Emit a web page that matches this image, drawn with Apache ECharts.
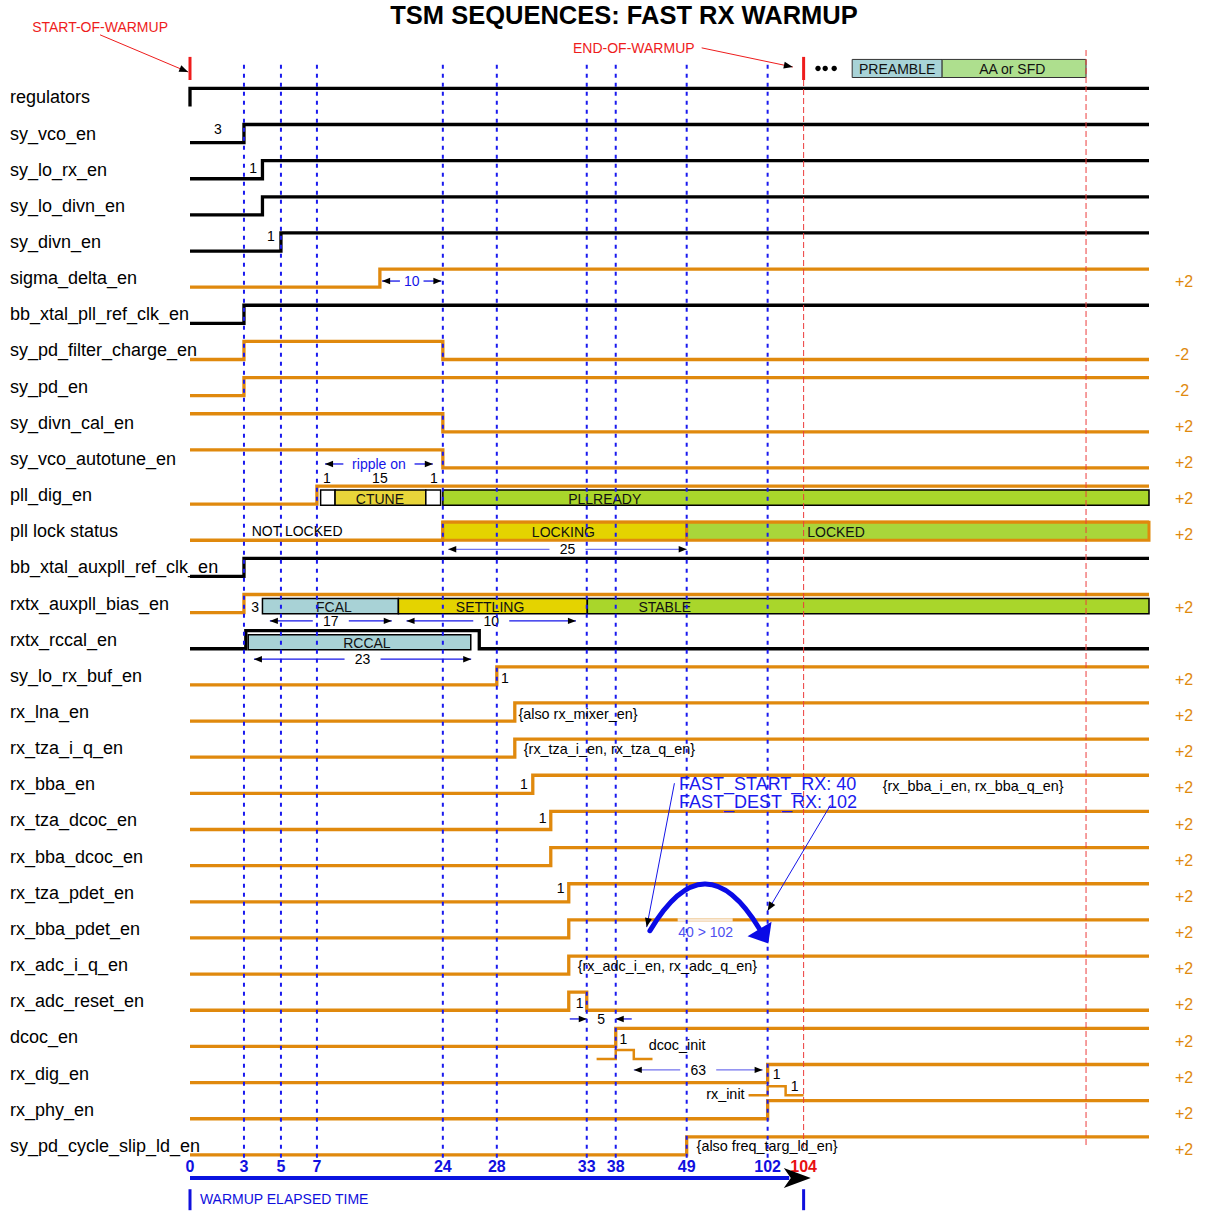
<!DOCTYPE html>
<html>
<head>
<meta charset="utf-8">
<title>TSM sequences: fast RX warmup</title>
<script src="https://cdn.jsdelivr.net/npm/echarts@6/dist/echarts.min.js"></script>
<style>
  html, body { margin: 0; padding: 0; background: #fff; }
  #chart { width: 1207px; height: 1212px; }
</style>
</head>
<body>
<div id="chart"></div>
<script>
// time axis: labelled ticks and where each one sits along the plot (px from plot left)
var tickTime = [0, 3, 5, 7, 24, 28, 33, 38, 49, 102, 104];
var tickPos  = [0, 54, 91, 127, 253, 307, 397, 426, 497, 578, 614];
var T_END = 123.2;  // right end of every trace

var signalNames = [
  'regulators', 'sy_vco_en', 'sy_lo_rx_en', 'sy_lo_divn_en', 'sy_divn_en',
  'sigma_delta_en', 'bb_xtal_pll_ref_clk_en', 'sy_pd_filter_charge_en', 'sy_pd_en', 'sy_divn_cal_en',
  'sy_vco_autotune_en', 'pll_dig_en', 'pll lock status', 'bb_xtal_auxpll_ref_clk_en', 'rxtx_auxpll_bias_en',
  'rxtx_rccal_en', 'sy_lo_rx_buf_en', 'rx_lna_en', 'rx_tza_i_q_en', 'rx_bba_en',
  'rx_tza_dcoc_en', 'rx_bba_dcoc_en', 'rx_tza_pdet_en', 'rx_bba_pdet_en', 'rx_adc_i_q_en',
  'rx_adc_reset_en', 'dcoc_en', 'rx_dig_en', 'rx_phy_en', 'sy_pd_cycle_slip_ld_en'
];
// k = black trace, o = orange trace
var signalColor = ['k','k','k','k','k','o','k','o','o','o','o','o','o','k','o',
                   'k','o','o','o','o','o','o','o','o','o','o','o','o','o','o'];
var rightTags = ['','','','','','+2','','-2','-2','+2','+2','+2','+2','','+2',
                 '','+2','+2','+2','+2','+2','+2','+2','+2','+2','+2','+2','+2','+2','+2'];

// [start level, toggle times...]
var waves = [
  [0, 0], [0, 3], [0, 4], [0, 4], [0, 5],
  [0, 15.5], [0, 3], [0, 3, 24], [0, 3], [1, 24],
  [1, 24], [0, 7], [0, 24], [0, 3], [0, 3],
  [0, 3.1, 26.7], [0, 28], [0, 29], [0, 29], [0, 30],
  [0, 31], [0, 31], [0, 32], [0, 32], [0, 32],
  [0, 32, 33], [0, 38], [0, 102], [0, 102], [0, 49]
];

// small sub-pulses: [row, start, rise, fall, end]
var pulses = [
  [26, 34.7, 38, 40.8, 43.7],
  [27, 89.5, 102, 103, 104]
];

// [row, t0, t1, label, label time, kind]
var boxes = [
  [11, 7.5, 9.45, '', 0, 'white'],
  [11, 9.45, 21.7, 'CTUNE', 15.5, 'ctune'],
  [11, 21.7, 23.7, '', 0, 'white'],
  [11, 24, T_END, 'PLLREADY', 36.1, 'ready'],
  [12, 24, 49, 'LOCKING', 31.7, 'locking'],
  [12, 49, T_END, 'LOCKED', 105.8, 'locked'],
  [14, 4.0, 18.0, 'FCAL', 9.3, 'fcal'],
  [14, 18.0, 33.1, 'SETTLING', 27.5, 'settling'],
  [14, 33.1, T_END, 'STABLE', 45.6, 'stable'],
  [15, 3.23, 26.07, 'RCCAL', 13.75, 'fcal'],
  [-0.8, 106.7, 111.7, 'PREAMBLE', 109.2, 'preamble'],
  [-0.8, 111.7, 119.7, 'AA or SFD', 115.6, 'aa']
];

// duration markers: [row, row offset, t0, t1, label, kind]
var spans = [
  [5, 0.08, 15.8, 23.8, '10', 'blue'],
  [10, 0.14, 8.1, 22.65, 'ripple on', 'blue'],
  [12, 0.5, 24.4, 49, '25', 'lite'],
  [14, 0.48, 4.4, 17.1, '17', 'dark'],
  [14, 0.48, 19.1, 32.4, '10', 'dark'],
  [15, 0.54, 3.54, 26.1, '23', 'dark'],
  [25, 0.49, 33, 38, '5', 'in'],
  [26, 0.9, 40.8, 98.7, '63', 'lite']
];

// free text: [row, row offset, time, text, kind]
var notes = [
  [1, -0.12, 1.55, '3', 'n'],
  [2, -0.05, 3.5, '1', 'n'],
  [4, -0.17, 4.46, '1', 'n'],
  [11, -0.47, 8.35, '1', 'n'],
  [11, -0.47, 15.5, '15', 'n'],
  [11, -0.47, 22.8, '1', 'n'],
  [12, 0, 5.9, 'NOT LOCKED', 'n'],
  [14, 0.1, 3.6, '3', 'n'],
  [16, 0.06, 28.45, '1', 'n'],
  [17, 0.05, 29.2, '{also rx_mixer_en}', 'l'],
  [18, 0.03, 29.5, '{rx_tza_i_en, rx_tza_q_en}', 'l'],
  [19, 0, 29.5, '1', 'n'],
  [19, 0.05, 108.4, '{rx_bba_i_en, rx_bba_q_en}', 'l'],
  [20, -0.07, 30.55, '1', 'n'],
  [22, -0.13, 31.55, '1', 'n'],
  [24, 0.03, 32.5, '{rx_adc_i_en, rx_adc_q_en}', 'l'],
  [25, 0.05, 32.6, '1', 'n'],
  [26, 0.05, 39.2, '1', 'n'],
  [26, 0.21, 43.1, 'dcoc_init', 'l'],
  [27, 0, 102.5, '1', 'n'],
  [27, 0.57, 86.9, 'rx_init', 'r'],
  [27, 0.35, 103.5, '1', 'n'],
  [29, 0, 55.5, '{also freq_targ_ld_en}', 'l'],
  [23, 0.09, 61.4, '40 > 102', 'jump'],
  [19, 0, 47.8, 'FAST_START_RX: 40', 'big'],
  [19, 0.5, 47.8, 'FAST_DEST_RX: 102', 'big'],
  [-2, 0.05, -5, 'START-OF-WARMUP', 'red'],
  [-1, -0.37, 40.8, 'END-OF-WARMUP', 'red'],
  [30, 0.47, 0.55, 'WARMUP ELAPSED TIME', 'warm']
];

// thin pointer arrows: [t0, row0, t1, row1, kind]
var pointers = [
  [-5, -1.73, -0.1, -0.7, 'red'],
  [58.8, -1.37, 103.4, -0.84, 'red'],
  [47.1, 18.97, 42.8, 22.95, 'blue'],
  [105.5, 19.57, 102, 22.5, 'blue']
];

// jump arc 40 -> 102: start, control, end (time, row)
var jumpArc = [43.3, 23.05, 60.8, 20.49, 96.7, 23.0];
var fadedPart = [23, 47.6, 79.1];
var dotTimes = [104.8, 105.2, 105.7];
var markTimes = [0, 104];
var redDash = [[104, -0.48, 29.12], [119.7, -1.31, 29.0]];

var FONT = '"Liberation Sans", Arial, Helvetica, sans-serif';
var ORANGE = '#e0890d';
var BLUE = '#1515e8';
var RED = '#ee1c1c';
var HALF = 0.25;

function tx(t) {
  var n = tickTime.length;
  if (t <= tickTime[0]) {
    return tickPos[0] + (t - tickTime[0]) * (tickPos[1] - tickPos[0]) / (tickTime[1] - tickTime[0]);
  }
  for (var k = 1; k < n; k++) {
    if (t <= tickTime[k]) {
      var f = (t - tickTime[k - 1]) / (tickTime[k] - tickTime[k - 1]);
      return tickPos[k - 1] + f * (tickPos[k] - tickPos[k - 1]);
    }
  }
  return tickPos[n - 1] + (t - tickTime[n - 1]) * (tickPos[n - 1] - tickPos[n - 2]) / (tickTime[n - 1] - tickTime[n - 2]);
}

function P(api, t, r) { return api.coord([tx(t), r]); }

function seg(a, b, style) {
  return { type: 'line', shape: { x1: a[0], y1: a[1], x2: b[0], y2: b[1] }, style: style };
}

function head(tip, from, len, hw, color) {
  var dx = tip[0] - from[0], dy = tip[1] - from[1];
  var d = Math.sqrt(dx * dx + dy * dy) || 1;
  var ux = dx / d, uy = dy / d;
  var bx = tip[0] - ux * len, by = tip[1] - uy * len;
  return { type: 'polygon', shape: { points: [tip, [bx - uy * hw, by + ux * hw], [bx + uy * hw, by - ux * hw]] },
           style: { fill: color } };
}

var boxStyle = {
  white:    { top: -0.14, bot: 0.28, fill: '#ffffff', stroke: '#000', lw: 1.5 },
  ctune:    { top: -0.14, bot: 0.28, fill: '#e8d53a', stroke: '#000', lw: 1.5 },
  ready:    { top: -0.14, bot: 0.28, fill: '#a9d62b', stroke: '#000', lw: 1.5 },
  fcal:     { top: -0.14, bot: 0.28, fill: '#a8d2d6', stroke: '#000', lw: 1.5 },
  settling: { top: -0.14, bot: 0.28, fill: '#e4d300', stroke: '#000', lw: 1.5 },
  stable:   { top: -0.14, bot: 0.28, fill: '#a9d62b', stroke: '#000', lw: 1.5 },
  locking:  { top: -HALF, bot: HALF, fill: '#e4d300', stroke: ORANGE, lw: 3 },
  locked:   { top: -HALF, bot: HALF, fill: '#a9d63a', stroke: ORANGE, lw: 3 },
  preamble: { top: -HALF, bot: HALF, fill: '#a8d3d7', stroke: '#333', lw: 1 },
  aa:       { top: -HALF, bot: HALF, fill: '#aedf8e', stroke: '#333', lw: 1 }
};

var noteStyle = {
  n:    { size: 14, fill: '#000', align: 'center' },
  l:    { size: 14.4, fill: '#000', align: 'left' },
  r:    { size: 14.4, fill: '#000', align: 'right' },
  jump: { size: 14, fill: '#5050f0', align: 'center' },
  big:  { size: 18, fill: '#1a1aee', align: 'left' },
  red:  { size: 14, fill: RED, align: 'center' },
  warm: { size: 14, fill: '#1010dd', align: 'left' }
};

var chart = echarts.init(document.getElementById('chart'), null, { renderer: 'svg' });

var option = {
  animation: false,
  title: {
    text: 'TSM SEQUENCES: FAST RX WARMUP',
    left: 619, top: -3, textAlign: 'center',
    textStyle: { fontSize: 25.5, fontWeight: 'bold', color: '#000', fontFamily: FONT }
  },
  grid: { left: 190, right: 58, top: 7, bottom: 30 },
  xAxis: {
    type: 'value', min: 0, max: tx(T_END),
    axisLine: { show: false }, axisTick: { show: false }, splitLine: { show: false },
    axisLabel: {
      inside: true, margin: 8,
      customValues: tickPos,
      formatter: function (v) {
        var t = tickTime[tickPos.indexOf(v)];
        return t === 104 ? '{r|' + t + '}' : '{b|' + t + '}';
      },
      rich: {
        b: { color: '#1010e0', fontSize: 16, fontWeight: 'bold', fontFamily: FONT },
        r: { color: '#e81010', fontSize: 16, fontWeight: 'bold', fontFamily: FONT }
      }
    }
  },
  yAxis: [{
    type: 'value', inverse: true, min: -2.5, max: 30,
    axisLine: { show: false }, axisTick: { show: false }, splitLine: { show: false },
    axisLabel: {
      customValues: signalNames.map(function (_, i) { return i; }),
      formatter: function (v) { return signalNames[Math.round(v)] || ''; },
      align: 'left', margin: 180, color: '#000', fontSize: 18, fontFamily: FONT
    }
  }, {
    type: 'value', inverse: true, min: -2.5, max: 30, position: 'right',
    axisLine: { show: false }, axisTick: { show: false }, splitLine: { show: false },
    axisLabel: {
      customValues: rightTags.map(function (_, i) { return i + 0.1; }),
      formatter: function (v) { return rightTags[Math.round(v)] || ''; },
      align: 'left', margin: 26, color: ORANGE, fontSize: 16, fontFamily: FONT
    }
  }],
  series: [
    {
      // traces
      type: 'custom', silent: true, clip: false,
      data: waves.map(function (_, i) { return [i]; }),
      renderItem: function (params, api) {
        var i = params.dataIndex, w = waves[i], lvl = w[0];
        var y = function (l) { return i + (l ? -HALF : HALF); };
        var pts = [P(api, 0, y(lvl))];
        for (var k = 1; k < w.length; k++) {
          pts.push(P(api, w[k], y(lvl)));
          lvl = 1 - lvl;
          pts.push(P(api, w[k], y(lvl)));
        }
        pts.push(P(api, T_END, y(lvl)));
        return { type: 'polyline', shape: { points: pts },
                 style: { stroke: signalColor[i] === 'k' ? '#000' : ORANGE, lineWidth: 3.3, fill: null, lineJoin: 'miter' } };
      }
    },
    {
      // init sub-pulses
      type: 'custom', silent: true, clip: false,
      data: pulses.map(function (_, i) { return [i]; }),
      renderItem: function (params, api) {
        var p = pulses[params.dataIndex], r = p[0];
        var lo = r + 0.6, hi = r + 0.35;
        var pts = [P(api, p[1], lo), P(api, p[2], lo), P(api, p[2], hi), P(api, p[3], hi), P(api, p[3], lo), P(api, p[4], lo)];
        return { type: 'polyline', shape: { points: pts }, style: { stroke: ORANGE, lineWidth: 2.5, fill: null } };
      }
    },
    {
      // state boxes
      type: 'custom', silent: true, clip: false,
      data: boxes.map(function (_, i) { return [i]; }),
      renderItem: function (params, api) {
        var b = boxes[params.dataIndex], st = boxStyle[b[5]];
        var p0 = P(api, b[1], b[0] + st.top), p1 = P(api, b[2], b[0] + st.bot);
        var ch = [{ type: 'rect', shape: { x: p0[0], y: p0[1], width: p1[0] - p0[0], height: p1[1] - p0[1] },
                    style: { fill: st.fill, stroke: st.stroke, lineWidth: st.lw } }];
        if (b[3]) {
          var pc = P(api, b[4], b[0] + (st.top + st.bot) / 2);
          ch.push({ type: 'text', x: pc[0], y: pc[1] + 1,
                    style: { text: b[3], fill: '#111', font: '14px ' + FONT, align: 'center', verticalAlign: 'middle' } });
        }
        return { type: 'group', children: ch };
      }
    },
    {
      // duration markers
      type: 'custom', silent: true, clip: false,
      data: spans.map(function (_, i) { return [i]; }),
      renderItem: function (params, api) {
        var s = spans[params.dataIndex], r = s[0] + s[1], kind = s[5];
        var a = P(api, s[2], r), b = P(api, s[3], r);
        var mid = (a[0] + b[0]) / 2;
        var ch = [];
        var lineCol = kind === 'lite' ? '#7272ee' : BLUE;
        var textCol = kind === 'blue' ? BLUE : '#000';
        if (kind === 'in') {
          ch.push(seg([a[0] - 17, a[1]], a, { stroke: lineCol, lineWidth: 1.3 }));
          ch.push(head(a, [a[0] - 10, a[1]], 8, 3.2, '#000'));
          ch.push(seg([b[0] + 16, b[1]], b, { stroke: lineCol, lineWidth: 1.3 }));
          ch.push(head(b, [b[0] + 10, b[1]], 8, 3.2, '#000'));
        } else {
          var gap = kind === 'blue' ? s[4].length * 3.4 + 5 : 18;
          ch.push(seg(a, [mid - gap, a[1]], { stroke: lineCol, lineWidth: 1.3 }));
          ch.push(seg([mid + gap, b[1]], b, { stroke: lineCol, lineWidth: 1.3 }));
          ch.push(head(a, [a[0] + 10, a[1]], 8, 3.2, '#000'));
          ch.push(head(b, [b[0] - 10, b[1]], 8, 3.2, '#000'));
        }
        ch.push({ type: 'text', x: mid, y: a[1],
                  style: { text: s[4], fill: textCol, font: '14px ' + FONT, align: 'center', verticalAlign: 'middle' } });
        return { type: 'group', children: ch };
      }
    },
    {
      // guides, markers, axis arrow
      type: 'custom', silent: true, clip: false,
      data: [[0]],
      renderItem: function (params, api) {
        var ch = [];
        var f = P(api, fadedPart[1], fadedPart[0] - HALF), g = P(api, fadedPart[2], fadedPart[0] - HALF);
        ch.push(seg(f, g, { stroke: '#f7e7d4', lineWidth: 3.5 }));
        tickTime.slice(1, -1).forEach(function (t) {
          ch.push(seg(P(api, t, -0.9), P(api, t, 29.4), { stroke: '#1a1aee', lineWidth: 2, lineDash: [4, 5] }));
        });
        redDash.forEach(function (d) {
          ch.push(seg(P(api, d[0], d[1]), P(api, d[0], d[2]), { stroke: '#ec3c3c', lineWidth: 1, lineDash: [6, 3] }));
        });
        markTimes.forEach(function (t) {
          ch.push(seg(P(api, t, -1.12), P(api, t, -0.48), { stroke: RED, lineWidth: 3 }));
          ch.push(seg(P(api, t, 30.2), P(api, t, 30.78), { stroke: '#1010dd', lineWidth: 3 }));
        });
        dotTimes.forEach(function (t) {
          var c = P(api, t, -0.8);
          ch.push({ type: 'circle', shape: { cx: c[0], cy: c[1], r: 2.7 }, style: { fill: '#000' } });
        });
        // elapsed-time arrow
        var a0 = P(api, 0, 29.89), a1 = P(api, 103.2, 29.89), tip = P(api, 104.4, 29.89);
        ch.push(seg(a0, a1, { stroke: '#0a14e0', lineWidth: 4 }));
        ch.push({ type: 'polygon', shape: { points: [tip, [tip[0] - 27, tip[1] - 10], [tip[0] - 20, tip[1]], [tip[0] - 27, tip[1] + 10]] },
                  style: { fill: '#000' } });
        // pointer arrows
        pointers.forEach(function (p) {
          var s = P(api, p[0], p[1]), e = P(api, p[2], p[3]);
          ch.push(seg(s, e, { stroke: p[4] === 'red' ? RED : BLUE, lineWidth: 1 }));
          ch.push(head(e, s, 9, 3.5, '#000'));
        });
        // jump arc
        var j0 = P(api, jumpArc[0], jumpArc[1]), jc = P(api, jumpArc[2], jumpArc[3]), j1 = P(api, jumpArc[4], jumpArc[5]);
        ch.push({ type: 'bezierCurve', shape: { x1: j0[0], y1: j0[1], cpx1: jc[0], cpy1: jc[1], x2: j1[0], y2: j1[1] },
                  style: { stroke: '#0a0ae6', lineWidth: 5, fill: null, lineCap: 'round' } });
        var dx = j1[0] - jc[0], dy = j1[1] - jc[1], d = Math.sqrt(dx * dx + dy * dy);
        var ux = dx / d, uy = dy / d;
        ch.push({ type: 'polygon', shape: { points: [[j1[0] + ux * 17, j1[1] + uy * 17],
                  [j1[0] - uy * 14, j1[1] + ux * 14], [j1[0] + uy * 14, j1[1] - ux * 14]] },
                  style: { fill: '#0a0ae6' } });
        return { type: 'group', children: ch };
      }
    },
    {
      // free text
      type: 'custom', silent: true, clip: false,
      data: notes.map(function (_, i) { return [i]; }),
      renderItem: function (params, api) {
        var n = notes[params.dataIndex], st = noteStyle[n[4]];
        var p = P(api, n[2], n[0] + n[1]);
        return { type: 'text', x: p[0], y: p[1],
                 style: { text: n[3], fill: st.fill, font: st.size + 'px ' + FONT, align: st.align, verticalAlign: 'middle' } };
      }
    }
  ]
};

chart.setOption(option);
</script>
</body>
</html>
